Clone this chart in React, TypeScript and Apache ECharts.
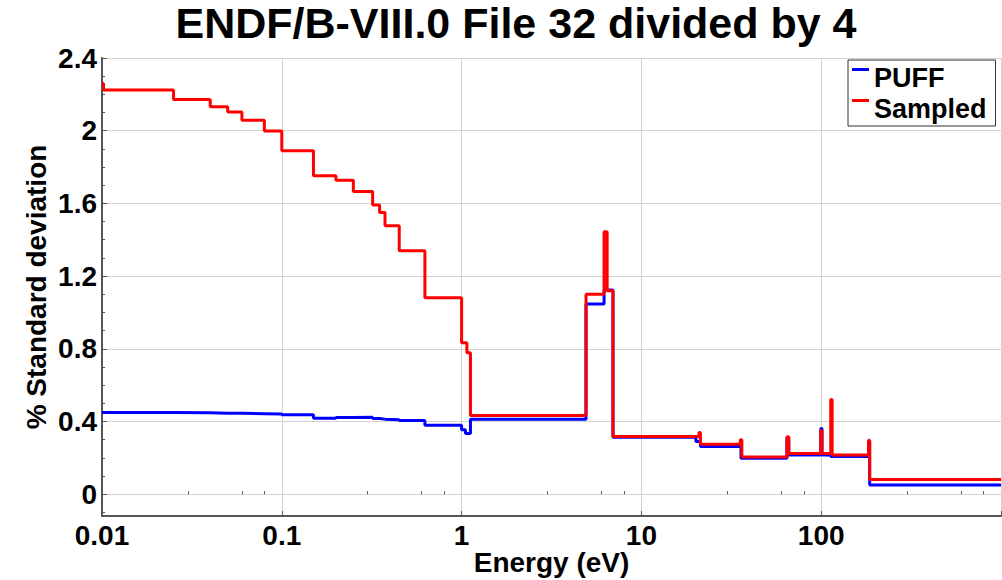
import React, { useEffect, useRef } from "react";
import * as echarts from "echarts";

const titleText = "ENDF/B-VIII.0 File 32 divided by 4";
const seriesNames = ["PUFF", "Sampled"];

// PUFF: group lower energies (eV) and % standard deviation
const puffEnergy = [
  0.01, 0.025, 0.04, 0.05, 0.06, 0.08, 0.1, 0.15, 0.2, 0.25, 0.32, 0.35, 0.375,
  0.45, 0.625, 1.0, 1.05, 1.12, 4.92, 6.2, 6.95, 20.1, 21.3, 35.8, 64.5, 66,
  99.5, 101, 113, 183.5, 186, 1000,
];
const puffValue = [
  0.45, 0.448, 0.446, 0.445, 0.443, 0.441, 0.437, 0.418, 0.422, 0.423, 0.416,
  0.413, 0.41, 0.405, 0.38, 0.355, 0.334, 0.412, 1.046, 1.123, 0.313, 0.29,
  0.262, 0.198, 0.31, 0.215, 0.361, 0.215, 0.207, 0.29, 0.05, 0.05,
];

// Sampled
const sampledEnergy = [
  0.01, 0.0102, 0.025, 0.04, 0.05, 0.06, 0.08, 0.1, 0.15, 0.2, 0.25, 0.32, 0.35,
  0.375, 0.45, 0.625, 1.0, 1.07, 1.12, 4.92, 6.2, 6.45, 6.95, 20.9, 21.3, 35.5,
  36.2, 64.5, 66, 99.5, 101, 113, 115, 183.5, 186, 1000,
];
const sampledValue = [
  2.26, 2.224, 2.172, 2.132, 2.103, 2.057, 1.998, 1.89, 1.752, 1.728, 1.666,
  1.591, 1.55, 1.477, 1.339, 1.081, 0.833, 0.778, 0.433, 1.1, 1.444, 1.12, 0.318,
  0.34, 0.275, 0.3, 0.205, 0.316, 0.224, 0.35, 0.224, 0.521, 0.215, 0.297, 0.081,
  0.081,
];

const yMajorTicks = [0, 0.4, 0.8, 1.2, 1.6, 2, 2.4];
const yMinorTicks = [
  -0.1, 0.1, 0.2, 0.3, 0.5, 0.6, 0.7, 0.9, 1.0, 1.1, 1.3, 1.4, 1.5, 1.7, 1.8,
  1.9, 2.1, 2.2, 2.3,
];
const xMinorTicks = [
  0.03, 0.06, 0.08, 0.3, 0.6, 0.8, 3, 6, 8, 30, 60, 80, 300, 600, 800,
];

const FONT = "'Liberation Sans', Arial, Helvetica, sans-serif";
const AXIS_COLOR = "#555555";
const GRID_COLOR = "#d2d2d2";

export default function App() {
  const ref = useRef<HTMLDivElement>(null);

  useEffect(() => {
    if (!ref.current) return;
    const chart = echarts.init(ref.current, undefined, { renderer: "svg" });
    const yMin = -0.12;
    const yMax = 2.4;
    const option: any = {
      animation: false,
      backgroundColor: "#ffffff",
      title: {
        text: titleText,
        left: 516,
        top: 1,
        textAlign: "center",
        padding: 0,
        textStyle: { fontFamily: FONT, fontWeight: "bold", fontSize: 43, color: "#000" },
      },
      legend: {
        data: seriesNames,
        orient: "vertical",
        left: 848,
        top: 60,
        padding: [4, 9, 4, 4],
        itemGap: 4,
        itemWidth: 17,
        itemHeight: 19,
        icon: "path://M0,0H17V3H0Z M0,18.9H0.1V19H0Z",
        itemStyle: { borderWidth: 0 },
        borderColor: "#333",
        borderWidth: 1,
        borderRadius: 0,
        backgroundColor: "#fff",
        textStyle: { fontFamily: FONT, fontWeight: "bold", fontSize: 27, color: "#000" },
      },
      grid: {
        left: 102,
        right: 1,
        top: 58,
        bottom: 64,
        containLabel: false,
        outerBoundsMode: "none",
      },
      xAxis: [
        {
          type: "log",
          logBase: 10,
          min: 0.01,
          max: 1000,
          position: "bottom",
          name: "Energy (eV)",
          nameLocation: "middle",
          nameGap: 32,
          nameMoveOverlap: false,
          nameTextStyle: { fontFamily: FONT, fontWeight: "bold", fontSize: 28, color: "#000" },
          axisLine: { show: true, onZero: false, lineStyle: { color: AXIS_COLOR, width: 2 } },
          axisTick: { show: true, inside: true, length: 5, lineStyle: { color: AXIS_COLOR } },
          axisLabel: {
            margin: 5,
            fontFamily: FONT,
            fontWeight: "bold",
            fontSize: 28,
            color: "#000",
            formatter: (v: number) => (v >= 999 ? "" : String(Number(v.toPrecision(3)))),
          },
          splitLine: { show: true, lineStyle: { color: GRID_COLOR, width: 1 } },
        },
        {
          type: "log",
          logBase: 10,
          min: 0.01,
          max: 1000,
          position: "bottom",
          axisLine: { show: false },
          axisLabel: { show: false },
          splitLine: { show: false },
          axisTick: {
            show: true,
            inside: true,
            length: 3,
            customValues: xMinorTicks,
            lineStyle: { color: AXIS_COLOR },
          },
        },
      ],
      yAxis: [
        {
          type: "value",
          min: yMin,
          max: yMax,
          position: "left",
          name: "% Standard deviation",
          nameLocation: "middle",
          nameGap: 52,
          nameMoveOverlap: false,
          nameTextStyle: { fontFamily: FONT, fontWeight: "bold", fontSize: 28, color: "#000" },
          axisLine: { show: true, onZero: false, lineStyle: { color: AXIS_COLOR, width: 2 } },
          axisTick: {
            show: true,
            inside: true,
            length: 5,
            customValues: yMajorTicks,
            lineStyle: { color: AXIS_COLOR },
          },
          axisLabel: {
            margin: 5,
            customValues: yMajorTicks,
            fontFamily: FONT,
            fontWeight: "bold",
            fontSize: 28,
            color: "#000",
            formatter: (v: number) => String(Number(v.toFixed(1))),
          },
          splitLine: { show: true, lineStyle: { color: GRID_COLOR, width: 1 } },
        },
        {
          type: "value",
          min: yMin,
          max: yMax,
          position: "left",
          axisLine: { show: false },
          axisLabel: { show: false },
          splitLine: { show: false },
          axisTick: {
            show: true,
            inside: true,
            length: 3,
            customValues: yMinorTicks,
            lineStyle: { color: AXIS_COLOR },
          },
        },
      ],
      series: [
        {
          name: seriesNames[0],
          type: "line",
          step: "end",
          showSymbol: false,
          symbol: "none",
          xAxisIndex: 0,
          yAxisIndex: 0,
          color: "#0000ff",
          lineStyle: { color: "#0000ff", width: 3 },
          data: puffEnergy.map((e, i) => [e, puffValue[i]]),
          z: 3,
        },
        {
          name: seriesNames[1],
          type: "line",
          step: "end",
          showSymbol: false,
          symbol: "none",
          xAxisIndex: 0,
          yAxisIndex: 0,
          color: "#ff0000",
          lineStyle: { color: "#ff0000", width: 3 },
          data: sampledEnergy.map((e, i) => [e, sampledValue[i]]),
          z: 4,
        },
      ],
    };
    chart.setOption(option);
    return () => chart.dispose();
  }, []);

  return (
    <div
      ref={ref}
      style={{ position: "absolute", left: 0, top: 0, width: 1002, height: 580 }}
    />
  );
}
